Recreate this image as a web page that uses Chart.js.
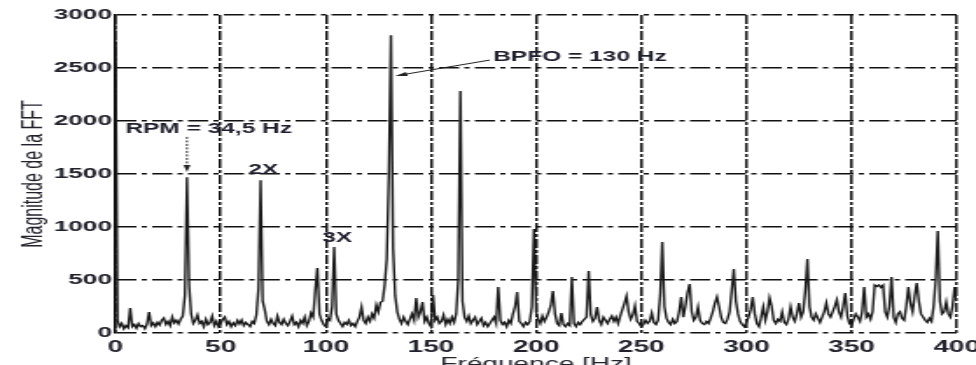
<!DOCTYPE html>
<html><head><meta charset="utf-8">
<script src="https://cdn.jsdelivr.net/npm/chart.js@4.4.1/dist/chart.umd.min.js"></script>
<style>
html,body{margin:0;padding:0;background:#fff;overflow:hidden;width:976px;height:365px;}
#wrap{position:absolute;left:0;top:0;width:558px;height:376px;transform:scaleX(1.749);transform-origin:0 0;}
</style></head><body>
<div id="wrap"><canvas id="c"></canvas></div>
<script>
// Spectrum sampled every 1 Hz from 0 Hz
const freqStart = 0;
const freqStep = 1;
const magnitude = [
  2750,120,60,90,40,70,50,236,60,80,        // 0-9
  45,90,60,70,40,85,198,70,95,60,           // 10-19
  100,75,120,141,80,110,70,151,95,120,      // 20-29
  85,130,160,350,1470,450,180,90,120,170,   // 30-39
  90,110,60,130,80,100,160,70,110,60,       // 40-49
  90,130,151,80,110,60,95,70,120,85,        // 50-59
  123,70,100,80,60,110,90,170,420,1440,     // 60-69
  300,217,110,80,130,90,70,160,100,80,      // 70-79
  130,90,70,110,160,80,100,60,120,90,       // 80-89
  151,70,110,189,150,400,613,180,120,80,    // 90-99
  60,140,120,250,811,180,120,90,60,100,     // 100-109
  80,120,70,90,60,110,150,245,120,90,       // 110-119
  150,110,180,140,264,200,290,300,450,700,  // 120-129
  1500,2810,800,350,200,130,90,150,110,80,  // 130-139
  130,180,120,330,150,200,292,110,150,90,   // 140-149
  60,358,120,150,90,110,170,80,130,90,      // 150-159
  150,100,180,500,2283,300,150,110,160,90,  // 160-169
  120,150,80,110,140,70,100,60,90,120,      // 170-179
  150,90,434,120,80,100,60,120,90,180,      // 180-189
  250,387,110,90,60,100,80,110,250,981,     // 190-199
  200,130,90,160,110,150,200,260,396,180,   // 200-209
  90,70,189,80,60,90,70,528,90,60,          // 210-219
  100,80,110,130,150,585,170,110,140,245,   // 220-229
  120,80,150,120,90,130,160,110,150,90,     // 230-239
  160,220,280,349,200,130,170,255,110,90,   // 240-249
  60,80,120,90,110,189,100,80,120,350,      // 250-259
  859,250,140,100,80,130,90,110,200,340,    // 260-269
  150,250,380,462,200,120,150,245,120,90,   // 270-279
  80,110,90,140,200,280,340,250,150,100,    // 280-289
  90,130,200,400,604,300,180,110,80,60,     // 290-299
  100,150,220,340,180,90,60,150,245,120,    // 300-309
  200,330,250,120,90,130,110,198,100,80,    // 310-319
  130,245,150,110,180,283,150,200,400,698,  // 320-329
  250,150,120,180,140,100,150,200,283,180,  // 330-339
  150,200,250,311,200,150,250,377,160,90,   // 340-349
  70,130,180,150,110,200,434,150,180,130,   // 350-359
  200,453,440,453,430,450,200,150,250,528,  // 360-369
  150,100,180,200,140,120,250,434,280,200,  // 370-379
  350,472,300,180,150,120,100,140,110,250,  // 380-389
  500,962,300,180,200,292,180,150,250,434,  // 390-399
  300                                        // 400
];
const xTicks = [0, 50, 100, 150, 200, 250, 300, 350, 400];
const yTicks = [0, 500, 1000, 1500, 2000, 2500, 3000];
const xTitle = 'Fréquence [Hz]';
const yTitle = 'Magnitude de la FFT';
const noteTexts = ['RPM = 34,5 Hz', '2X', '3X', 'BPFO = 130 Hz'];
const noteFreqs = [4.7, 63.2, 98.3, 179.6];
const noteMags = [1925, 1540, 896, 2604];
const arrowFrom = [[34, 1850], [178, 2575]];
const arrowTo = [[34, 1520], [133, 2425]];
const arrowDashed = [true, false];

const points = magnitude.map((m, i) => ({x: freqStart + i * freqStep, y: m}));
const FONT = '"Liberation Sans", Arial, sans-serif';

const notesPlugin = {
  id: 'notes',
  afterDatasetsDraw(chart) {
    const {ctx, scales: {x, y}} = chart;
    ctx.save();
    ctx.fillStyle = '#1e1e2c';
    ctx.font = 'bold 14px ' + FONT;
    ctx.textAlign = 'left';
    ctx.textBaseline = 'middle';
    noteTexts.forEach((t, i) => ctx.fillText(t, x.getPixelForValue(noteFreqs[i]), y.getPixelForValue(noteMags[i])));
    arrowFrom.forEach((f, i) => {
      const x1 = x.getPixelForValue(f[0]), y1 = y.getPixelForValue(f[1]);
      const x2 = x.getPixelForValue(arrowTo[i][0]), y2 = y.getPixelForValue(arrowTo[i][1]);
      const a = Math.atan2(y2 - y1, x2 - x1);
      const L = 7, W = 2;
      const c = Math.cos(a), s = Math.sin(a);
      ctx.strokeStyle = '#222';
      ctx.lineWidth = 1;
      ctx.setLineDash(arrowDashed[i] ? [2, 1.5] : []);
      ctx.beginPath();
      ctx.moveTo(x1, y1);
      ctx.lineTo(x2 - L * 0.8 * c, y2 - L * 0.8 * s);
      ctx.stroke();
      ctx.setLineDash([]);
      ctx.fillStyle = '#222';
      ctx.beginPath();
      ctx.moveTo(x2, y2);
      ctx.lineTo(x2 - L * c + W * s, y2 - L * s - W * c);
      ctx.lineTo(x2 - L * c - W * s, y2 - L * s + W * c);
      ctx.closePath();
      ctx.fill();
    });
    ctx.restore();
  }
};

new Chart(document.getElementById('c'), {
  type: 'line',
  data: {
    datasets: [{
      data: points,
      borderColor: '#1a1a1a',
      borderWidth: 1.4,
      pointRadius: 0,
      tension: 0,
      fill: false
    }]
  },
  options: {
    responsive: true,
    maintainAspectRatio: false,
    animation: false,
    events: [],
    layout: {padding: {left: 0, right: 11, top: 15, bottom: 0}},
    plugins: {legend: {display: false}, tooltip: {enabled: false}},
    scales: {
      x: {
        type: 'linear', min: 0, max: 400,
        afterBuildTicks: s => { s.ticks = xTicks.map(v => ({value: v})); },
        afterFit: s => { s.height = 43; s.paddingLeft = 0; s.paddingRight = 0; },
        grid: {color: '#111', lineWidth: 1.5, drawTicks: false},
        border: {display: false, dash: [9, 2, 3, 2]},
        ticks: {color: '#22222c', font: {family: FONT, size: 16, weight: 'bold'}, padding: 5, maxRotation: 0, autoSkip: false,
                callback: v => String(v)},
        title: {display: true, text: xTitle, color: '#22222c', font: {family: FONT, size: 16}, padding: {top: 0, bottom: 2}}
      },
      y: {
        min: 0, max: 3000,
        afterBuildTicks: s => { s.ticks = yTicks.map(v => ({value: v})); },
        afterFit: s => { s.width = 66; s.paddingTop = 0; s.paddingBottom = 0; },
        grid: {color: '#111', lineWidth: 1.5, drawTicks: false},
        border: {display: true, color: '#000', width: 1.5, dash: [11.5, 3, 3, 3]},
        ticks: {color: '#22222c', font: {family: FONT, size: 15, weight: 'bold'}, padding: 2, callback: v => String(v)},
        title: {display: true, text: yTitle, color: '#22222c', font: {family: FONT, size: 16}, padding: {top: 10, bottom: 0}}
      }
    }
  },
  plugins: [notesPlugin]
});
</script>
</body></html>
